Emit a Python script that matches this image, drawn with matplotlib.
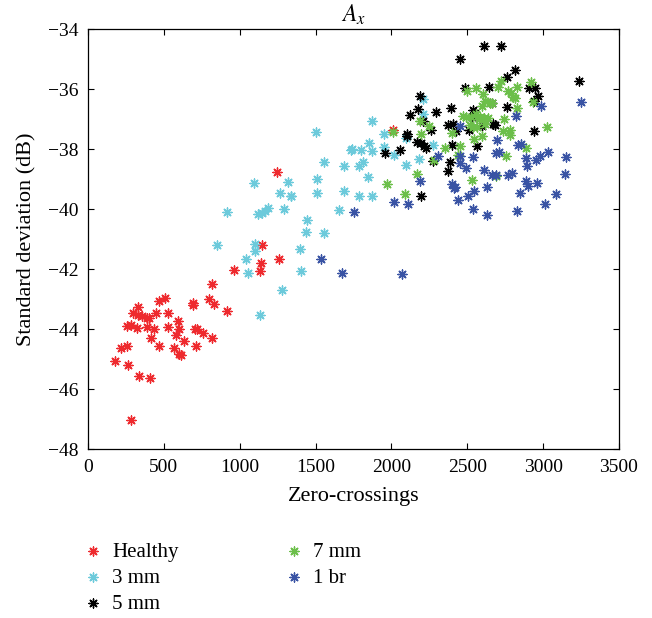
import matplotlib
matplotlib.use("Agg")
import matplotlib.pyplot as plt

plt.rcParams['font.family'] = ['Liberation Serif', 'DejaVu Serif']
plt.rcParams['mathtext.fontset'] = 'stix'

# zero-crossings / standard deviation (dB)
healthy_x = [282, 176, 266, 216, 257, 339, 409, 259, 281, 321, 295, 330, 328, 356, 387,
             400, 391, 435, 418, 450, 466, 505, 466, 530, 530, 593, 602, 578, 569, 602,
             611, 635, 690, 690, 703, 720, 714, 756, 795, 828, 819, 819, 916, 964, 1133,
             1140, 1147, 1260, 1243, 2011]
healthy_y = [-47.02, -45.07, -45.2, -44.62, -44.55, -45.56, -45.63, -43.89, -43.85, -43.98,
             -43.47, -43.27, -43.53, -43.58, -43.62, -43.62, -43.94, -44.0, -44.29, -43.45,
             -43.08, -42.95, -44.58, -43.45, -43.94, -43.72, -44.0, -44.21, -44.62, -44.82,
             -44.87, -44.41, -43.13, -43.2, -44.0, -44.0, -44.55, -44.13, -42.99, -43.16,
             -44.3, -42.5, -43.39, -42.02, -42.08, -41.8, -41.2, -41.66, -38.76, -37.38]

mm3_x = [1871, 1502, 1952, 1733, 1743, 1798, 1853, 1875, 1952, 2016, 1555, 1686, 1783, 1814,
         2097, 2183, 1092, 1316, 1507, 1265, 1335, 1341, 1507, 1686, 1783, 1847, 1871, 916,
         1122, 1144, 1166, 1188, 1293, 1443, 1654, 1436, 1557, 852, 1100, 1100, 1043, 1052,
         1397, 1406, 1276, 1133, 2209, 2205, 2271, 2095]
mm3_y = [-37.06, -37.42, -37.5, -38.03, -38.0, -38.03, -37.81, -38.08, -37.92, -38.19, -38.43,
         -38.57, -38.57, -38.43, -38.52, -38.33, -39.13, -39.09, -39.0, -39.47, -39.58, -39.58,
         -39.47, -39.41, -39.58, -38.93, -39.55, -40.1, -40.16, -40.14, -40.06, -39.98, -39.99,
         -40.36, -40.02, -40.76, -40.8, -41.21, -41.16, -41.41, -41.66, -42.13, -41.32, -42.07,
         -42.71, -43.52, -36.33, -36.82, -37.87, -37.62]

mm5_x = [2608, 2720, 2455, 2815, 2765, 3235, 2485, 2640, 2905, 2945, 2968, 2938, 2190, 2665,
         2760, 2172, 2395, 2535, 2125, 2295, 2205, 2370, 2408, 2530, 2600, 2672, 2680, 2940,
         2260, 2425, 2510, 2100, 2100, 2168, 2195, 2215, 2230, 2400, 2565, 1955, 2058, 2385,
         2370, 2195, 2275]
mm5_y = [-34.55, -34.58, -35.0, -35.36, -35.61, -35.73, -35.97, -35.93, -35.97, -35.97, -36.24,
         -36.39, -36.22, -36.48, -36.6, -36.67, -36.64, -36.7, -36.87, -36.77, -37.07, -37.21,
         -37.18, -36.93, -37.24, -37.16, -37.2, -37.41, -37.38, -37.4, -37.36, -37.5, -37.57,
         -37.77, -37.8, -37.9, -37.95, -37.88, -37.9, -38.14, -38.03, -38.44, -38.72, -39.57,
         -38.39]

mm7_x = [2500, 2560, 2700, 2725, 2920, 2930, 2605, 2615, 2825, 2770, 2790, 2802, 2812, 2660,
         2830, 2490, 2525, 2555, 2585, 2610, 2635, 2745, 2520, 2540, 2565, 2595, 2545, 2400,
         2195, 2245, 2738, 2784, 2784, 3025, 2885, 2755, 2355, 2282, 2010, 2170, 1968, 2088,
         2530, 2692, 2440, 2473, 2451, 2190, 2600, 2648, 2580, 2615]
mm7_y = [-36.06, -35.98, -35.93, -35.72, -35.77, -36.44, -36.15, -36.4, -35.92, -36.06, -36.13,
         -36.25, -36.3, -36.45, -36.63, -36.94, -36.94, -36.82, -36.93, -36.95, -36.95, -36.99,
         -37.2, -37.25, -37.28, -37.55, -37.65, -37.47, -37.5, -37.23, -37.41, -37.38, -37.52,
         -37.28, -37.97, -38.22, -37.97, -38.38, -37.42, -38.84, -39.17, -39.49, -39.04, -38.91,
         -38.19, -36.9, -37.89, -37.08, -36.58, -36.47, -37.0, -37.15]

br1_x = [3250, 2986, 2820, 2696, 2835, 2855, 3035, 2982, 3148, 2690, 2712, 2889, 2894, 2955,
         2450, 2308, 2450, 2455, 2490, 2538, 2609, 2660, 2688, 2770, 2795, 2191, 2016, 2112,
         2402, 2418, 2411, 2437, 2541, 2508, 2631, 2538, 2632, 2889, 2900, 2962, 2850, 3083,
         3010, 2828, 3142, 1750, 1535, 1675, 2072]
br1_y = [-36.43, -36.58, -36.89, -37.69, -37.86, -37.84, -38.11, -38.22, -38.26, -38.13, -38.1,
         -38.3, -38.57, -38.36, -37.22, -38.24, -38.23, -38.47, -38.64, -38.28, -38.69, -38.87,
         -38.86, -38.87, -38.8, -39.06, -39.78, -39.82, -39.17, -39.25, -39.3, -39.7, -39.41,
         -39.57, -39.25, -39.99, -40.21, -39.08, -39.22, -39.13, -39.45, -39.5, -39.82, -40.06,
         -38.84, -40.11, -41.65, -42.13, -42.18]

labels = ['Healthy', '3 mm', '5 mm', '7 mm', '1 br']
colors = ['#ee2a2e', '#6ccadb', '#000000', '#6cbf4a', '#3953a4']
series = [(healthy_x, healthy_y), (mm3_x, mm3_y), (mm5_x, mm5_y), (mm7_x, mm7_y), (br1_x, br1_y)]

fig = plt.figure(figsize=(6.52, 6.18), dpi=100)
ax = fig.add_axes([88 / 652, 1 - 449 / 618, 531 / 652, 420 / 618])

star = (8, 2, 0)
for (xs, ys), c, lab in zip(series, colors, labels):
    ax.scatter(xs, ys, marker=star, s=42, c=c, linewidths=1.0, label=lab)

ax.set_xlim(0, 3500)
ax.set_ylim(-48, -34)
ax.set_xticks(range(0, 3501, 500))
ax.set_yticks(range(-48, -33, 2))
ax.tick_params(direction='in', top=True, right=True, labelsize=14, length=4, width=0.8, pad=7)
for sp in ax.spines.values():
    sp.set_linewidth(0.9)
ax.set_xlabel('Zero-crossings', fontsize=16, labelpad=8)
ax.set_ylabel('Standard deviation (dB)', fontsize=16, labelpad=8)
ax.set_title('$A_x$', fontsize=17, pad=5)

fig.legend(loc='upper left', bbox_to_anchor=(0.114, 0.136), ncol=2, frameon=False,
           fontsize=15, columnspacing=5.0, labelspacing=0.31, handlelength=1.0,
           handletextpad=0.43, scatterpoints=1, borderaxespad=0)

fig.savefig('out.png', dpi=100)
